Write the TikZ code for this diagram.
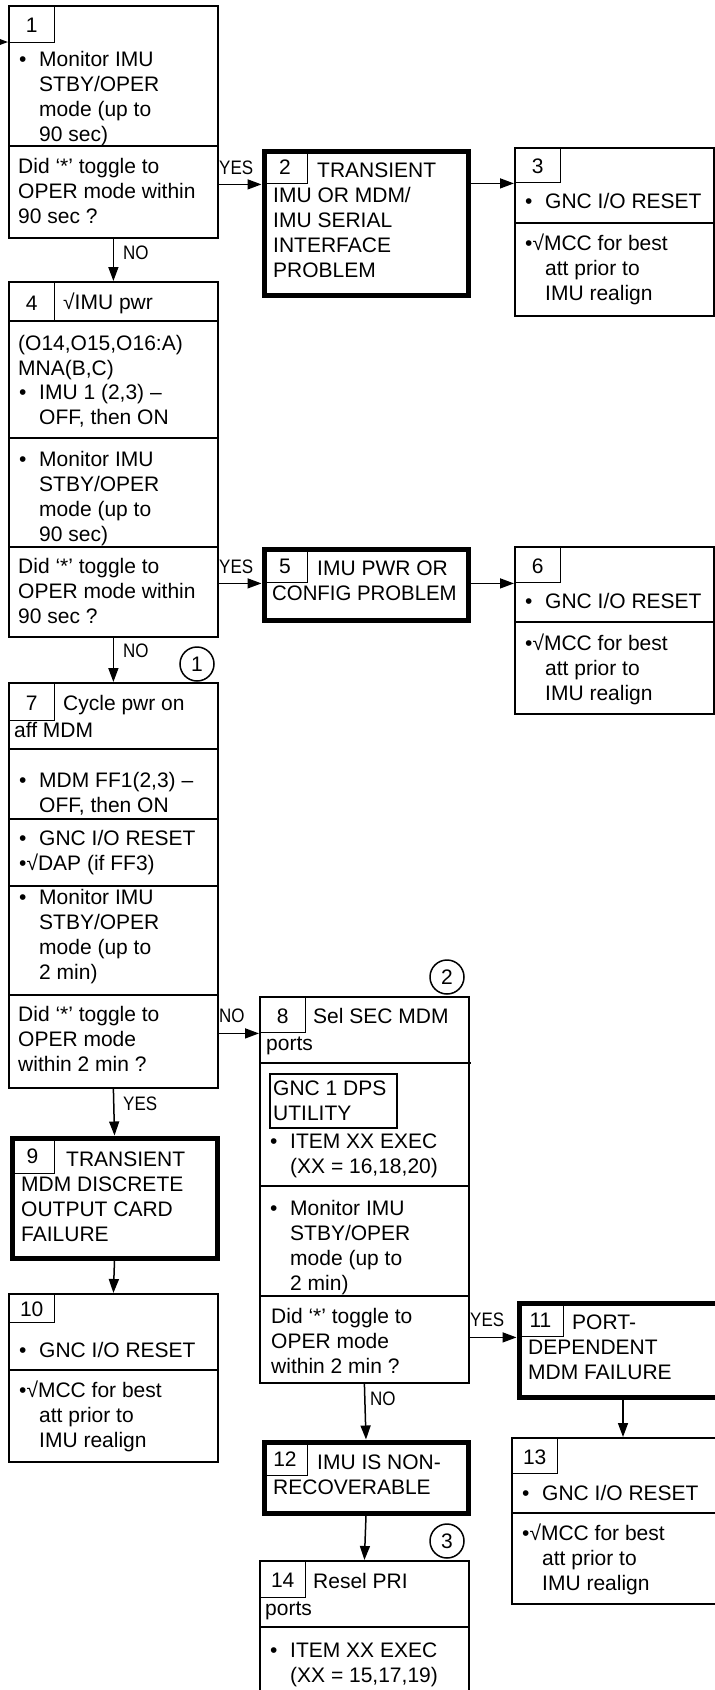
\documentclass[tikz,border=0pt]{standalone}
\usepackage{fontspec}
\setmainfont{Liberation Sans}
\newfontfamily\condfont[FakeStretch=0.87]{Liberation Sans}
\usetikzlibrary{arrows.meta,positioning}
\newcommand{\boxfont}{\fontsize{21}{25}\selectfont}
\newcommand{\labfont}{\condfont\fontsize{19.5}{22}\selectfont}
\newcommand{\ml}[1]{\begin{tabular}[t]{@{}l@{}}#1\end{tabular}}
\newcommand{\bul}[1]{\makebox[20pt][l]{\textbullet}\ml{#1}}
\tikzset{
  >={Triangle[length=14pt,width=10pt]},
  box/.style={draw,line width=1.8pt,anchor=north west,inner sep=0pt},
  hbox/.style={box,line width=5pt},
  num/.style={draw,line width=1.4pt,anchor=north west,inner sep=0pt,font=\boxfont,text height=17pt,text depth=0pt},
  txt/.style={anchor=base west,inner sep=0pt,font=\boxfont},
  lab/.style={anchor=base west,inner sep=0pt,font=\labfont},
  conn/.style={circle,draw,line width=1.5pt,minimum size=34pt,inner sep=0pt,font=\boxfont},
  div/.style={line width=1.8pt},
  arr/.style={->,line width=1.5pt},
}
\begin{document}
\begin{tikzpicture}[x=1pt,y=-1pt]
\useasboundingbox (0,0) rectangle (715,1690);
\clip (0,0) rectangle (715,1690);

% 1: monitor
\node[box,minimum width=209pt,minimum height=232pt] (b1) at (8,5) {};
\node[num,minimum width=46pt,minimum height=37pt] (b1n) at (b1.north west) {1};
\node[txt] (b1a) at (19,66) {\bul{Monitor IMU\\STBY/OPER\\mode (up to\\90 sec)}};
\draw[div] (b1.west |- 0,146) -- (b1.east |- 0,146);
\node[txt] (b1q) at (18,173) {\ml{Did ‘*’ toggle to\\OPER mode within\\90 sec ?}};

% 2, 3
\node[hbox,minimum width=204pt,minimum height=144pt] (b2) at (261.5,148.5) {};
\node[num,minimum width=45.5pt,minimum height=34.5pt] (b2n) at (b2.north west) {2};
\node[txt] (b2t) at (273,177) {\ml{\hspace*{44pt}TRANSIENT\\IMU OR MDM/\\IMU SERIAL\\INTERFACE\\PROBLEM}};

\node[box,minimum width=199pt,minimum height=168pt] (b3) at (514,147) {};
\node[num,minimum width=46pt,minimum height=35pt] (b3n) at (b3.north west) {3};
\node[txt] (b3a) at (525,208) {\bul{GNC I/O RESET}};
\draw[div] (b3.west |- 0,223) -- (b3.east |- 0,223);
\node[txt] (b3b) at (525,250) {\ml{\textbullet√MCC for best\\\hspace*{20pt}att prior to\\\hspace*{20pt}IMU realign}};

% 4: IMU pwr
\node[box,minimum width=209pt,minimum height=355pt] (b4) at (8,281) {};
\node[num,minimum width=46pt,minimum height=40pt] (b4n) at (b4.north west) {4};
\node[txt] (b4h) at (63,309) {√IMU pwr};
\draw[div] (b4.west |- 0,321) -- (b4.east |- 0,321);
\node[txt] (b4a) at (18,350) {\ml{(O14,O15,O16:A)\\MNA(B,C)}};
\node[txt] (b4b) at (19,399) {\bul{IMU 1 (2,3) –\\OFF, then ON}};
\draw[div] (b4.west |- 0,438) -- (b4.east |- 0,438);
\node[txt] (b4c) at (19,466) {\bul{Monitor IMU\\STBY/OPER\\mode (up to\\90 sec)}};
\draw[div] (b4.west |- 0,547) -- (b4.east |- 0,547);
\node[txt] (b4q) at (18,573) {\ml{Did ‘*’ toggle to\\OPER mode within\\90 sec ?}};

% 5, 6
\node[hbox,minimum width=204pt,minimum height=71pt] (b5) at (261.5,546.5) {};
\node[num,minimum width=45.5pt,minimum height=35.5pt] (b5n) at (b5.north west) {5};
\node[txt] (b5t) at (272,575) {\ml{\hspace*{45pt}IMU PWR OR\\\scalebox{0.97}[1]{CONFIG PROBLEM}}};

\node[box,minimum width=199pt,minimum height=167pt] (b6) at (514,546) {};
\node[num,minimum width=46pt,minimum height=36pt] (b6n) at (b6.north west) {6};
\node[txt] (b6a) at (525,608) {\bul{GNC I/O RESET}};
\draw[div] (b6.west |- 0,622) -- (b6.east |- 0,622);
\node[txt] (b6b) at (525,650) {\ml{\textbullet√MCC for best\\\hspace*{20pt}att prior to\\\hspace*{20pt}IMU realign}};

% 7: cycle MDM
\node[box,minimum width=209pt,minimum height=405pt] (b7) at (8,682) {};
\node[num,minimum width=46pt,minimum height=38pt] (b7n) at (b7.north west) {7};
\node[txt] (b7h) at (63,710) {Cycle pwr on};
\node[txt] (b7i) at (14,737) {aff MDM};
\draw[div] (b7.west |- 0,749) -- (b7.east |- 0,749);
\node[txt] (b7a) at (19,787) {\bul{MDM FF1(2,3) –\\OFF, then ON}};
\draw[div] (b7.west |- 0,819) -- (b7.east |- 0,819);
\node[txt] (b7b) at (19,845) {\ml{\makebox[20pt][l]{\textbullet}GNC I/O RESET\\\textbullet√DAP (if FF3)}};
\draw[div] (b7.west |- 0,886) -- (b7.east |- 0,886);
\node[txt] (b7c) at (19,904) {\bul{Monitor IMU\\STBY/OPER\\mode (up to\\2 min)}};
\draw[div] (b7.west |- 0,995) -- (b7.east |- 0,995);
\node[txt] (b7q) at (18,1021) {\ml{Did ‘*’ toggle to\\OPER mode\\within 2 min ?}};
\node[conn] (c1) at (197,664) {1};

% 8: SEC ports
\node[box,minimum width=209pt,minimum height=386pt] (b8) at (259,996) {};
\node[num,minimum width=46pt,minimum height=36pt] (b8n) at (b8.north west) {8};
\node[txt] (b8h) at (313,1023) {Sel SEC MDM};
\node[txt] (b8i) at (266,1050) {ports};
\draw[div] (b8.west |- 0,1063) -- +(212,0);
\node[box,line width=1.5pt,minimum width=127pt,minimum height=54pt] (b8f) at (269,1073) {};
\node[txt] (b8u) at (273,1095) {\ml{GNC 1 DPS\\UTILITY}};
\node[txt] (b8a) at (270,1148) {\bul{ITEM XX EXEC\\(XX = 16,18,20)}};
\draw[div] (b8.west |- 0,1186) -- (b8.east |- 0,1186);
\node[txt] (b8b) at (270,1215) {\bul{Monitor IMU\\STBY/OPER\\mode (up to\\2 min)}};
\draw[div] (b8.west |- 0,1296) -- (b8.east |- 0,1296);
\node[txt] (b8q) at (271,1323) {\ml{Did ‘*’ toggle to\\OPER mode\\within 2 min ?}};
\node[conn] (c2) at (447,977) {2};

% 9, 10
\node[hbox,minimum width=205pt,minimum height=120pt] (b9) at (9.5,1135.5) {};
\node[num,minimum width=44.5pt,minimum height=37.5pt] (b9n) at (b9.north west) {9};
\node[txt] (b9t) at (21,1166) {\ml{\hspace*{45pt}TRANSIENT\\MDM DISCRETE\\OUTPUT CARD\\FAILURE}};

\node[box,minimum width=209pt,minimum height=168pt] (b10) at (8,1293) {};
\node[num,minimum width=46pt,minimum height=29pt] (b10n) at (b10.north west) {10};
\node[txt] (b10a) at (19,1357) {\bul{GNC I/O RESET}};
\draw[div] (b10.west |- 0,1370) -- (b10.east |- 0,1370);
\node[txt] (b10b) at (19,1397) {\ml{\textbullet√MCC for best\\\hspace*{20pt}att prior to\\\hspace*{20pt}IMU realign}};

% 11, 13
\node[hbox,minimum width=208pt,minimum height=94pt] (b11) at (516.5,1300.5) {};
\node[num,minimum width=46.5pt,minimum height=35.5pt] (b11n) at (b11.north west) {11};
\node[txt] (b11t) at (528,1329) {\ml{\hspace*{44pt}PORT-\\DEPENDENT\\MDM FAILURE}};

\node[box,minimum width=216pt,minimum height=166pt] (b13) at (511,1437) {};
\node[num,minimum width=46pt,minimum height=36pt] (b13n) at (b13.north west) {13};
\node[txt] (b13a) at (522,1500) {\bul{GNC I/O RESET}};
\draw[div] (b13.west |- 0,1513) -- (b13.east |- 0,1513);
\node[txt] (b13b) at (522,1540) {\ml{\textbullet√MCC for best\\\hspace*{20pt}att prior to\\\hspace*{20pt}IMU realign}};

% 12, 14
\node[hbox,minimum width=204pt,minimum height=71pt] (b12) at (261.5,1439.5) {};
\node[num,minimum width=45.5pt,minimum height=35.5pt] (b12n) at (b12.north west) {12};
\node[txt] (b12t) at (273,1469) {\ml{\hspace*{44pt}IMU IS NON-\\RECOVERABLE}};

\node[box,minimum width=209pt,minimum height=150pt] (b14) at (259,1560) {};
\node[num,minimum width=46pt,minimum height=37pt] (b14n) at (b14.north west) {14};
\node[txt] (b14h) at (313,1588) {Resel PRI};
\node[txt] (b14i) at (265,1615) {ports};
\draw[div] (b14.west |- 0,1627) -- (b14.east |- 0,1627);
\node[txt] (b14a) at (270,1657) {\bul{ITEM XX EXEC\\(XX = 15,17,19)}};
\node[conn] (c3) at (447,1541) {3};

% connectors
\coordinate (entry) at (-12,42);
\draw[arr] (entry) -- (b1.west |- entry);
\draw[arr] (b1.east |- b2n.south) -- (b2n.south west);
\draw[arr] (b2.east |- b3n.south) -- (b3n.south west);
\draw[arr] (b1.south) -- (b4.north);
\draw[arr] (b4.east |- b5n.south) -- (b5n.south west);
\draw[arr] (b5.east |- b6n.south) -- (b6n.south west);
\draw[arr] (b4.south) -- (b7.north);
\draw[arr] (b7.east |- b8n.south) -- (b8n.south west);
\draw[arr] (b7.south) -- (b9.north);
\draw[arr] (b9.south) -- (b10.north);
\draw[arr] (b8.east |- b11n.south) -- (b11n.south west);
\draw[arr] (b11.south) -- (b11.south |- b13.north);
\draw[arr] (b8.south) -- (b12.north);
\draw[arr] (b12.south) -- (b14.north);

\node[lab] (l12) at (219,174) {YES};
\node[lab] (l14) at (123,259) {NO};
\node[lab] (l45) at (219,573) {YES};
\node[lab] (l47) at (123,657) {NO};
\node[lab] (l78) at (219,1022) {NO};
\node[lab] (l79) at (123,1110) {YES};
\node[lab] (l811) at (470,1326) {YES};
\node[lab] (l812) at (370,1405) {NO};
\end{tikzpicture}
\end{document}
